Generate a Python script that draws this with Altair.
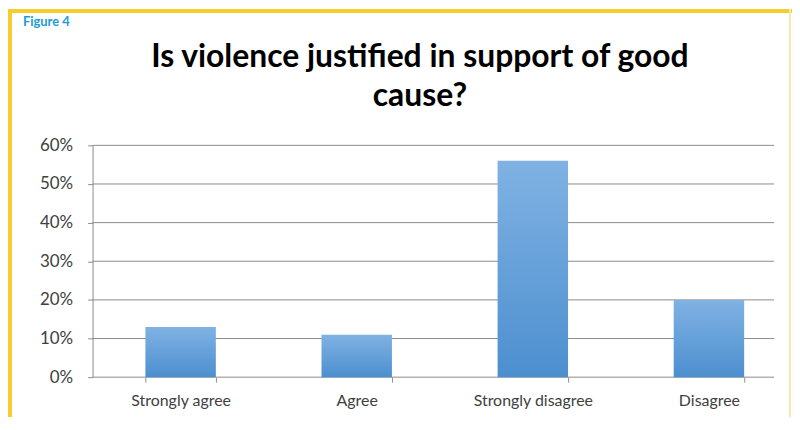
import altair as alt
import pandas as pd

categories = ["Strongly agree", "Agree", "Strongly disagree", "Disagree"]
shares = [0.13, 0.11, 0.56, 0.20]
y_ticks = [0, 0.1, 0.2, 0.3, 0.4, 0.5, 0.6]
title_lines = ["Is violence justified in support of good", "cause?"]
figure_label = "Figure 4"

df = pd.DataFrame({"category": categories, "share": shares})
grid_df = pd.DataFrame({"tick": y_ticks})

FONT = "Lato"
GRID = "#8C8C8C"
LABEL = "#404040"
YELLOW = "#F6CD2E"

W, H = 685, 233
PAD_L, PAD_T = 85, 137
CANVAS_W, CANVAS_H = 788, 410

yscale = alt.Scale(domain=[0, 0.6], nice=False)
y_axis = alt.Axis(values=y_ticks, format=".0%", grid=False, domain=True,
                  domainColor=GRID, tickColor=GRID, tickSize=5,
                  labelOverlap=False, labelFont=FONT, labelFontSize=17,
                  labelColor=LABEL, labelPadding=15)

gradient = alt.Gradient(
    gradient="linear",
    stops=[alt.GradientStop(color="#80B2E3", offset=0),
           alt.GradientStop(color="#4C8FCF", offset=1)],
    x1=0, x2=0, y1=0, y2=1,
)

grid = alt.Chart(grid_df).mark_rule(color=GRID, strokeWidth=1).encode(
    y=alt.Y("tick:Q", scale=yscale, title=None, axis=y_axis),
    x=alt.value(0), x2=alt.value(W),
)

bars = alt.Chart(df).mark_bar(color=gradient).encode(
    x=alt.X("category:N", sort=categories, title=None,
            scale=alt.Scale(range=[0, 708], paddingInner=0.6, paddingOuter=0.3),
            axis=alt.Axis(domain=False, tickBand="extent", ticks=True, tickSize=5,
                          tickColor=GRID, labelAngle=0, labelFont=FONT,
                          labelFontSize=16, labelColor=LABEL, labelPadding=10,
                          labelOverlap=False, grid=False)),
    y=alt.Y("share:Q", scale=yscale, title=None, axis=y_axis),
)

one = alt.Data(values=[{"k": 1}])

title = alt.Chart(one).mark_text(
    text=title_lines, font=FONT, fontSize=32, fontWeight="bold", color="black",
    align="center", baseline="alphabetic", lineHeight=39,
).encode(x=alt.value(422 - 8 - PAD_L), y=alt.value(66 - 8 - PAD_T))

fig_label = alt.Chart(one).mark_text(
    text=figure_label, font=FONT, fontSize=13, fontWeight="bold",
    color="#1E9AD6", align="left", baseline="middle",
).encode(x=alt.value(15 - PAD_L), y=alt.value(21 - 8 - PAD_T))

top_border = alt.Chart(one).mark_rule(color=YELLOW, strokeWidth=4).encode(
    x=alt.value(-PAD_L), x2=alt.value(CANVAS_W - PAD_L), y=alt.value(-PAD_T + 2))
left_border = alt.Chart(one).mark_rule(color=YELLOW, strokeWidth=4).encode(
    x=alt.value(-PAD_L + 2), y=alt.value(-PAD_T), y2=alt.value(CANVAS_H - PAD_T))
right_border = alt.Chart(one).mark_rule(color="#F8E9A6", strokeWidth=2).encode(
    x=alt.value(CANVAS_W - PAD_L - 2), y=alt.value(-PAD_T), y2=alt.value(CANVAS_H - PAD_T))

chart = alt.layer(grid, bars, title, fig_label, top_border, left_border, right_border).properties(
    width=W, height=H,
    autosize=alt.AutoSizeParams(type="none"),
    padding={"left": PAD_L, "top": PAD_T, "right": CANVAS_W - PAD_L - W,
             "bottom": CANVAS_H - PAD_T - H},
    background="white",
).configure_view(stroke=None)

chart.save("out.html", embed_options={"renderer": "svg", "actions": False})
